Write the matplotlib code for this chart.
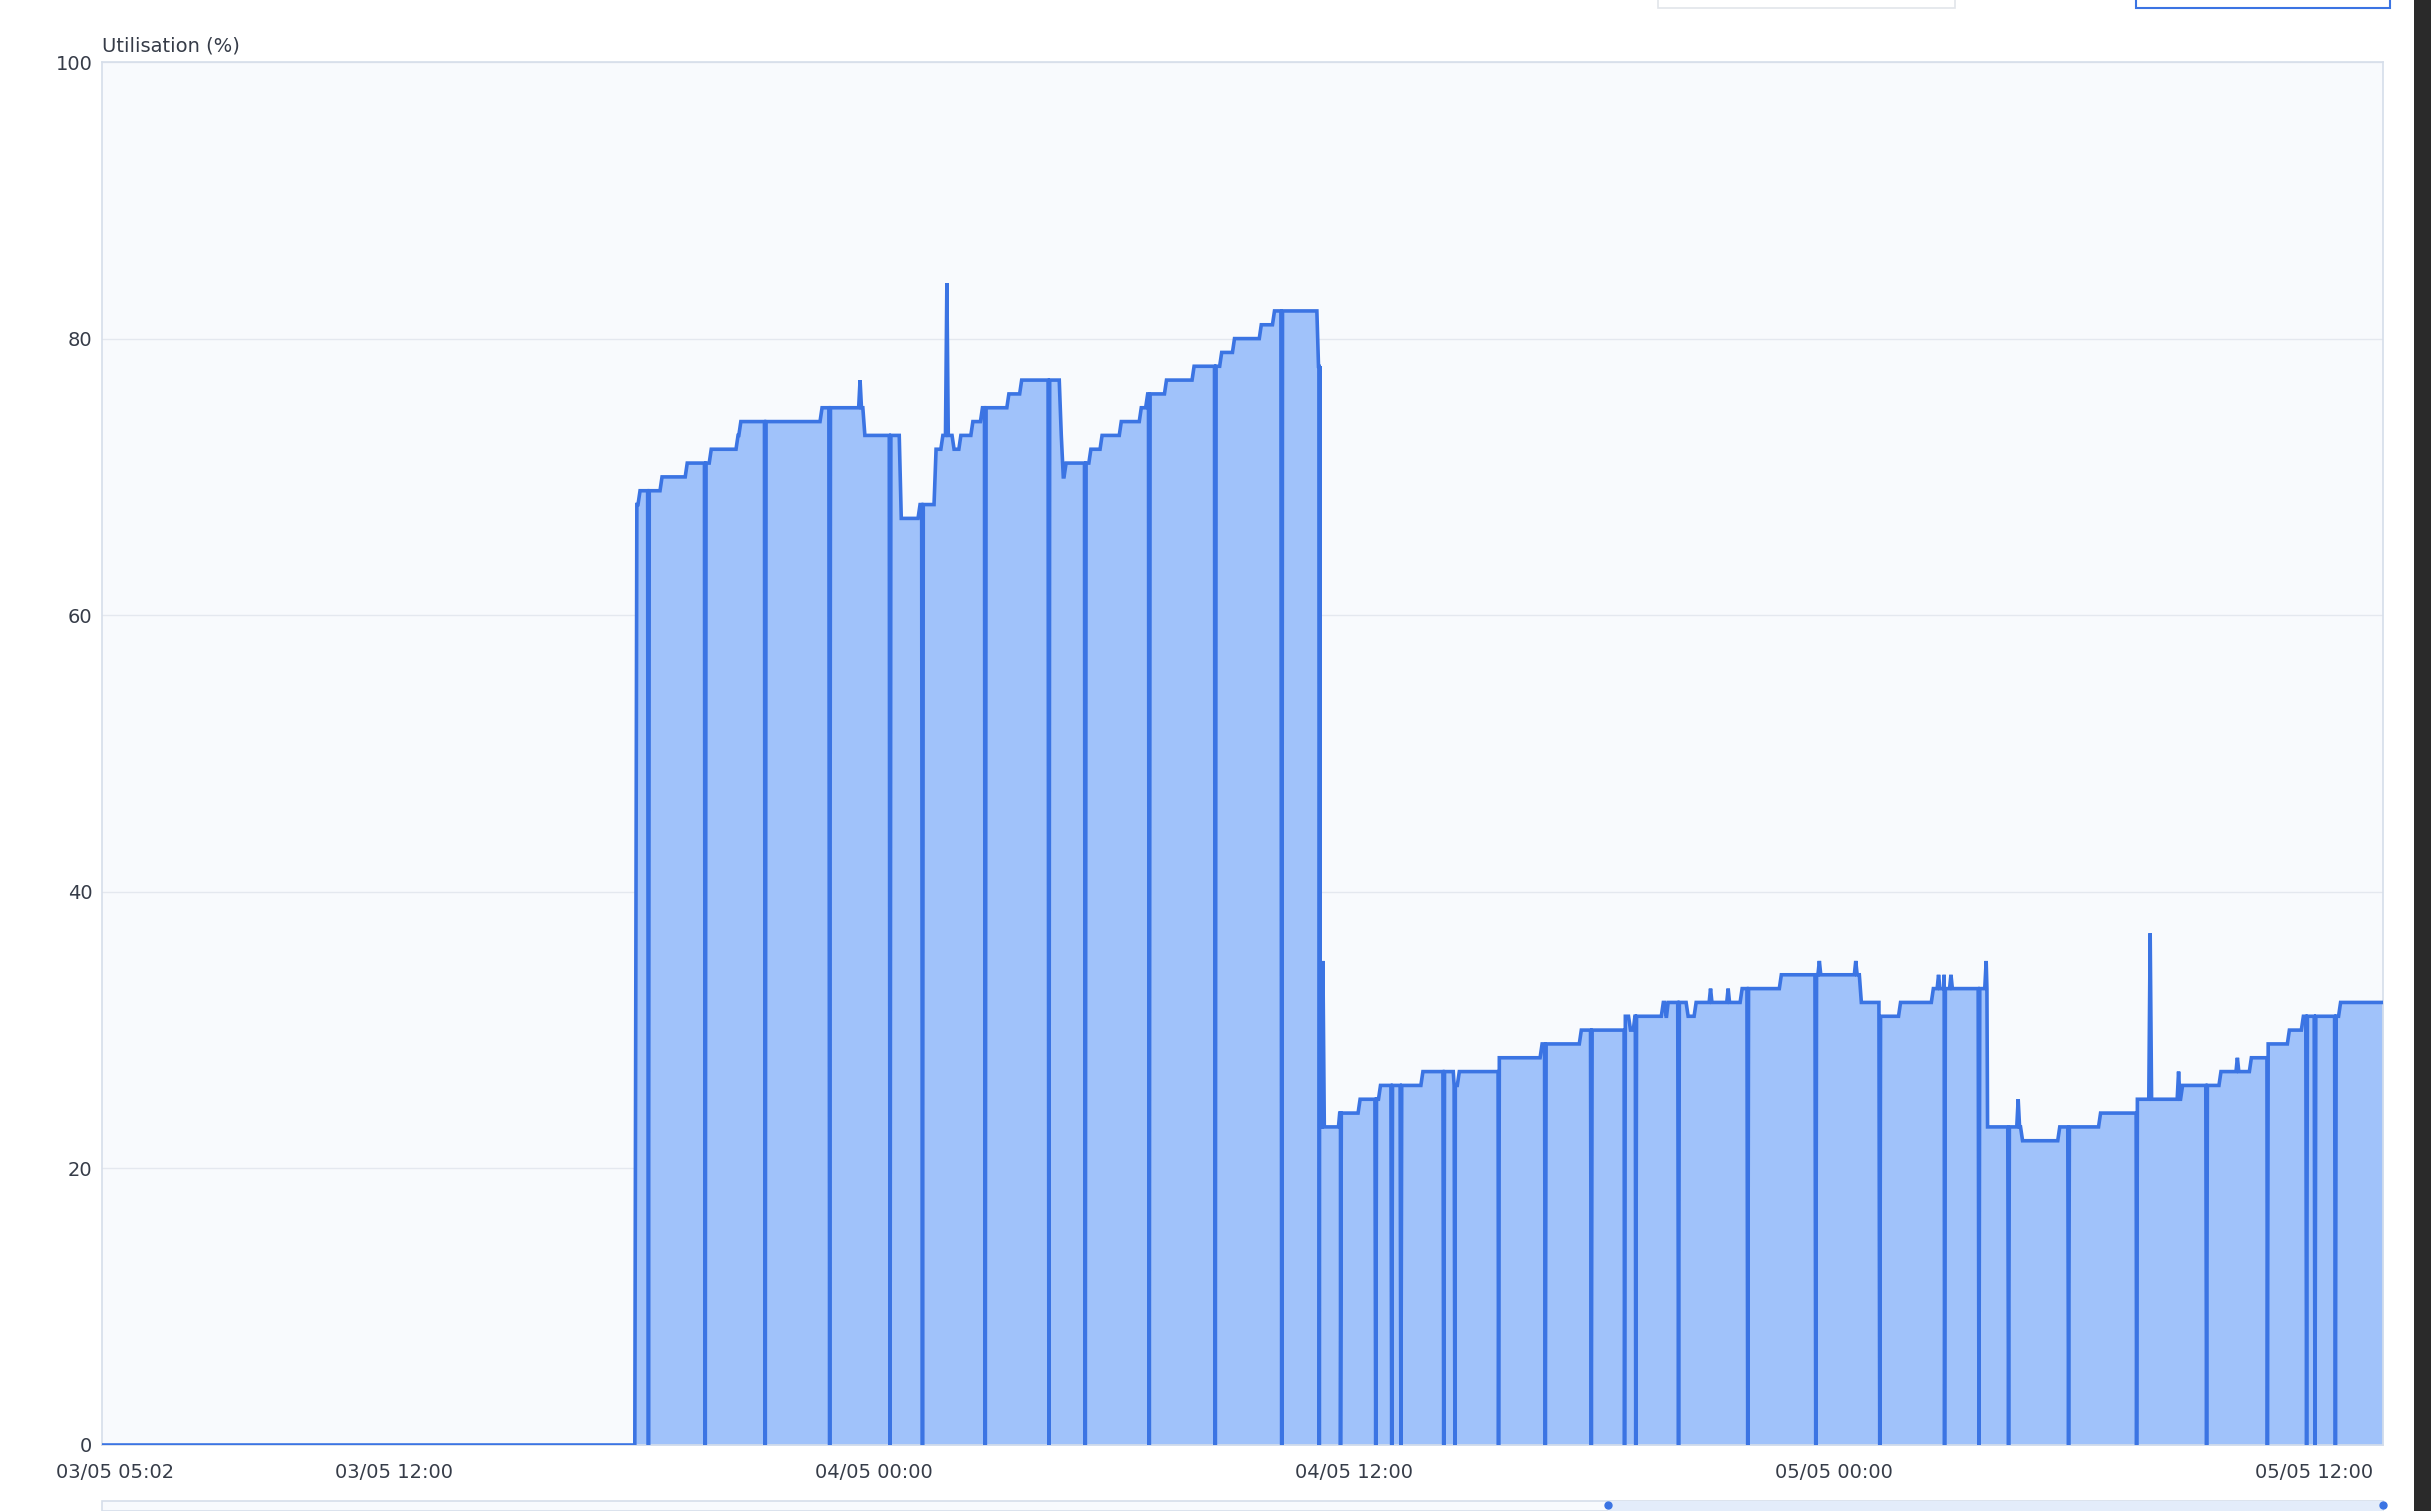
import numpy as np
import matplotlib.pyplot as plt
from matplotlib.patches import Rectangle

# time is in hours since 03/05 00:00
x_min, x_max = 4.70, 61.72

# level changes: (hour, new utilisation %)
level_t = [4.70, 18.02, 18.10, 18.65, 19.28, 19.88, 20.55, 20.62, 22.65, 23.72, 24.63,
           25.10, 25.50, 25.67, 25.95, 26.12, 26.42, 26.66, 27.32, 27.64, 28.63, 28.68,
           28.75, 29.37, 29.65, 30.13, 30.63, 30.79, 31.26, 31.95, 32.64, 32.96, 33.63,
           33.96, 35.07, 35.15, 35.61, 36.10, 36.61, 37.67, 38.48, 38.58, 39.60, 40.65,
           41.63, 42.75, 42.86, 42.98, 43.68, 43.76, 43.80, 44.30, 44.50, 45.65, 46.63,
           48.63, 49.12, 49.61, 50.43, 51.82, 52.66, 53.59, 54.61, 55.55, 56.66, 57.62,
           58.38, 58.82, 59.33, 59.68, 60.61]
level_v = [0, 68, 69, 70, 71, 72, 73, 74, 75, 73, 67,
           68, 72, 73, 72, 73, 74, 75, 76, 77, 73, 70,
           71, 72, 73, 74, 75, 76, 77, 78, 79, 80, 81,
           82, 78, 23, 24, 25, 26, 27, 26, 27, 28, 29,
           30, 31, 30, 31, 32, 31, 32, 31, 32, 33, 34,
           32, 31, 32, 33, 23, 22, 23, 24, 25, 26, 27,
           28, 29, 30, 31, 32]

# single-sample spikes
spike_t = [23.65, 25.82, 35.22, 44.91, 45.35, 47.63, 48.54, 50.61, 50.75, 50.92,
           51.80, 52.60, 55.90, 56.61, 58.08]
spike_v = [77, 84, 35, 33, 33, 35, 35, 34, 34, 34,
           35, 25, 37, 27, 28]

# samples that dropped to zero
dip_t = [18.36, 19.78, 21.28, 22.89, 24.40, 25.21, 26.78, 28.37, 29.28, 30.88, 32.53,
         34.19, 35.13, 35.66, 36.54, 36.94, 37.17, 38.24, 38.52, 39.61, 40.78, 41.93,
         42.76, 43.04, 44.11, 45.84, 47.54, 49.14, 50.76, 51.62, 52.36, 53.86, 55.56,
         57.31, 58.83, 59.81, 60.02, 60.53]

tick_pos = [5.033, 12, 24, 36, 48, 60]
tick_lab = ['03/05 05:02', '03/05 12:00', '04/05 00:00', '04/05 12:00',
            '05/05 00:00', '05/05 12:00']


def level_at(t):
    i = np.searchsorted(level_t, t, side='right') - 1
    return level_v[max(i, 0)]


pts = [(x_min, 0.0)]
for i in range(1, len(level_t)):
    pts.append((level_t[i] - 0.001, level_v[i - 1]))
    pts.append((level_t[i] + 0.05, level_v[i]))
for t, v in zip(spike_t, spike_v):
    pts += [(t - 0.035, level_at(t - 0.035)), (t, v), (t + 0.035, level_at(t + 0.035))]
for t in dip_t:
    pts += [(t - 0.02, level_at(t - 0.02)), (t, 0), (t + 0.02, level_at(t + 0.02))]
pts.append((x_max, level_at(x_max)))
pts.sort(key=lambda p: p[0])
xs = np.array([p[0] for p in pts])
ys = np.array([p[1] for p in pts])

W, H = 2431, 1511
fig = plt.figure(figsize=(W / 100, H / 100), dpi=100)
fig.patch.set_facecolor('white')
ax = fig.add_axes([102 / W, 66 / H, (2383 - 102) / W, (1445 - 62) / H])
ax.set_facecolor('#f8fafd')

ax.fill_between(xs, ys, 0, color='#a0c2fa', lw=0, zorder=2)
ax.plot(xs, ys, color='#3b74e3', lw=2.6, zorder=3, solid_joinstyle='miter')

ax.set_xlim(x_min, x_max)
ax.set_ylim(0, 100)
ax.set_yticks([0, 20, 40, 60, 80, 100])
ax.set_xticks(tick_pos)
ax.set_xticklabels(tick_lab)
ax.tick_params(length=0, labelsize=14, colors='#363c48')
ax.tick_params(axis='x', pad=13)
ax.tick_params(axis='y', pad=7)
ax.grid(axis='y', color='#e4e8ef', lw=1, zorder=1)
for s in ax.spines.values():
    s.set_color('#d6deea')
    s.set_linewidth(1.2)

fig.text(102 / W, 1 - 46 / H, 'Utilisation (%)', fontsize=14, color='#363c48',
         ha='left', va='center')

# range slider at the bottom edge
fig.patches.append(Rectangle((102 / W, 0), (2383 - 102) / W, 10 / H,
                             transform=fig.transFigure, facecolor='#f8fafd',
                             edgecolor='#d6deea', lw=1.2))
fig.patches.append(Rectangle((1608 / W, 0), (2383 - 1608) / W, 10 / H,
                             transform=fig.transFigure, facecolor='#e3ecfa',
                             edgecolor='none'))
fig.lines.append(plt.Line2D([1608 / W, 2383 / W], [1 - 1505 / H] * 2,
                            transform=fig.transFigure, marker='o', ms=5,
                            ls='none', color='#3b74e3'))

# dark side panel on the right
fig.patches.append(Rectangle((2414 / W, 0), 17 / W, 1, transform=fig.transFigure,
                             facecolor='#2a2a2a', edgecolor='none'))
# top widgets cut off by the screenshot
fig.patches.append(Rectangle((1658 / W, 1 - 8 / H), (1955 - 1658) / W, 12 / H,
                             transform=fig.transFigure, facecolor='white',
                             edgecolor='#e2e5ea', lw=1.2))
fig.patches.append(Rectangle((2136 / W, 1 - 8 / H), (2390 - 2136) / W, 12 / H,
                             transform=fig.transFigure, facecolor='white',
                             edgecolor='#3b74e3', lw=1.5))

fig.savefig('out.png', dpi=100)
